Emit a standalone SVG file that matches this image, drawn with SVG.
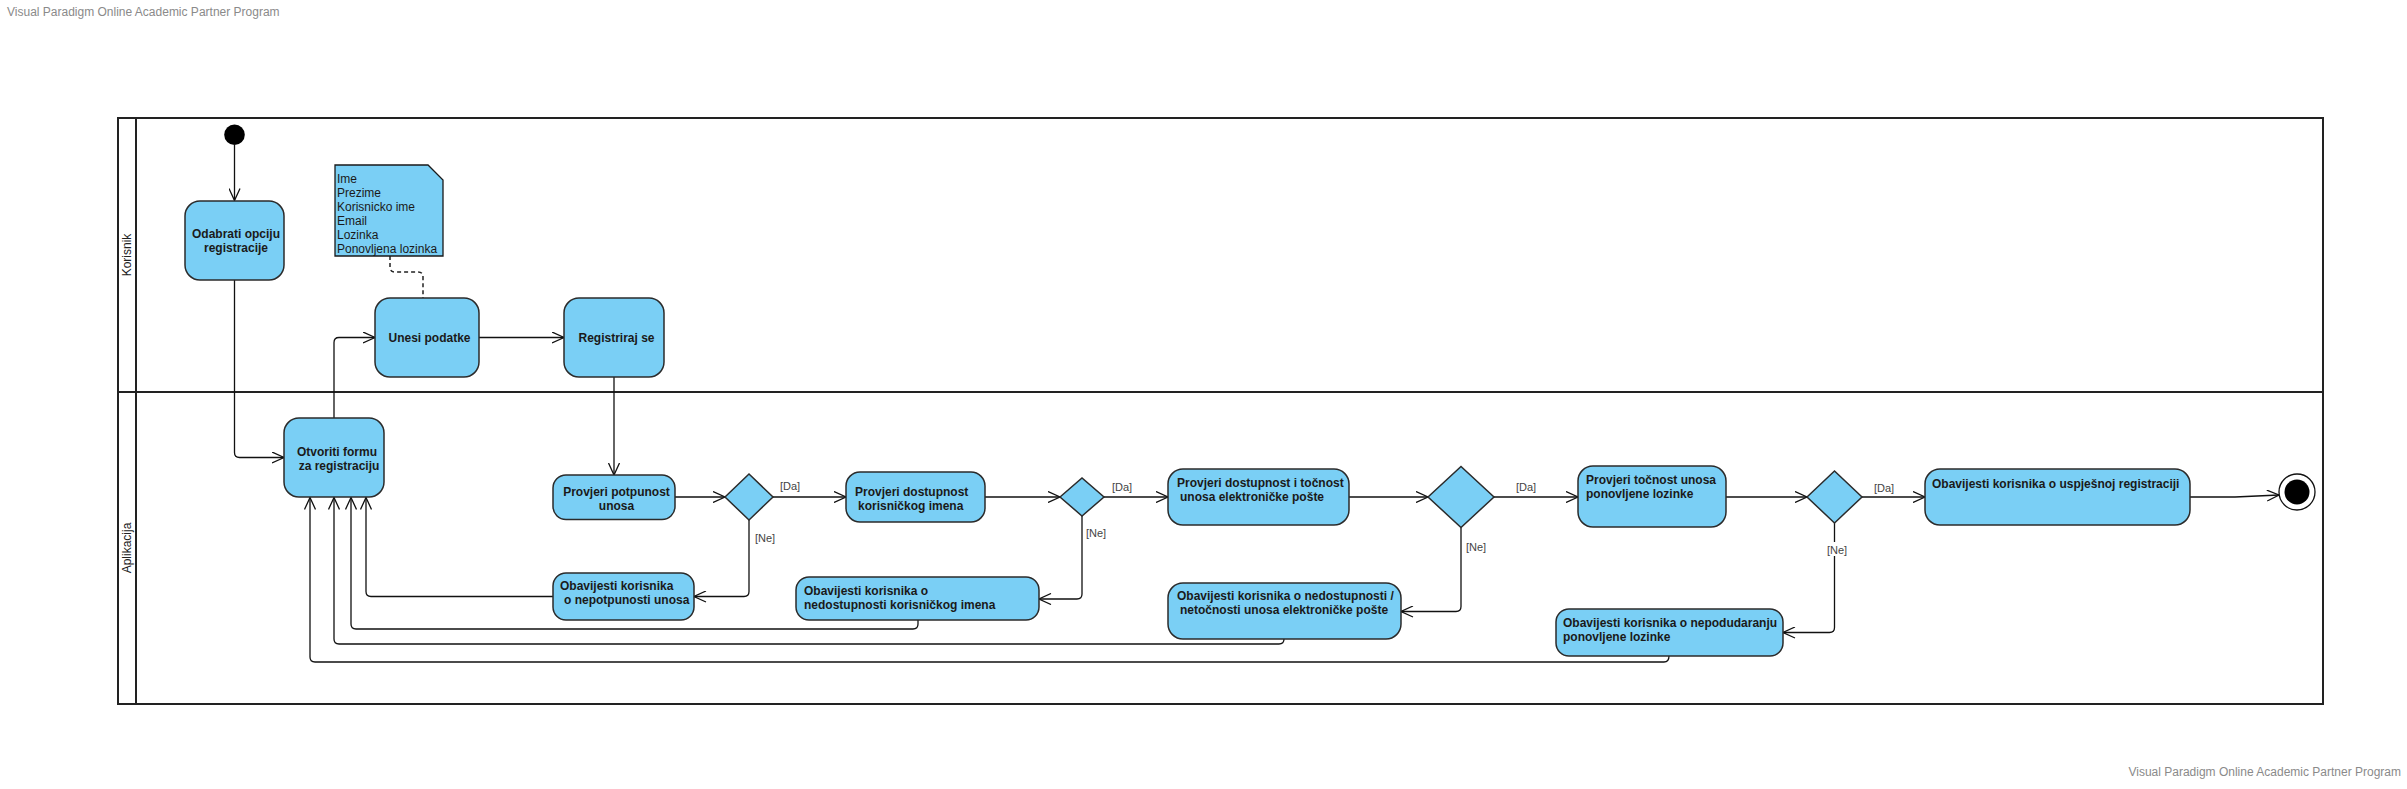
<svg xmlns="http://www.w3.org/2000/svg" width="2407" height="789" viewBox="0 0 2407 789">
<style>
.wm{font-family:"Liberation Sans",Arial,sans-serif;font-size:12px;fill:#8a8a8a}
.lane{fill:none;stroke:#222;stroke-width:2}
.lanelbl{font-family:"Liberation Sans",Arial,sans-serif;font-size:12px;fill:#222}
.act{fill:#7ACFF5;stroke:#2b2b2b;stroke-width:1.5}
.t{font-family:"Liberation Sans",Arial,sans-serif;font-size:12px;font-weight:bold;fill:#1a1a1a}
.tc{text-anchor:middle}
.note{fill:#7ACFF5;stroke:#1a1a1a;stroke-width:1.3}
.nt{font-family:"Liberation Sans",Arial,sans-serif;font-size:12px;fill:#1a1a1a}
.c{fill:none;stroke:#111;stroke-width:1.3;marker-end:url(#arr)}
.cn{fill:none;stroke:#111;stroke-width:1.3}
.dash{fill:none;stroke:#222;stroke-width:1.5;stroke-dasharray:4 3}
.g{font-family:"Liberation Sans",Arial,sans-serif;font-size:11px;fill:#444}
</style>
<defs>
<marker id="arr" viewBox="0 0 13 12" refX="12.5" refY="6" markerWidth="13" markerHeight="12" markerUnits="userSpaceOnUse" orient="auto">
<path d="M0.5,0.5 L12.5,6 L0.5,11.5" fill="none" stroke="#111" stroke-width="1.3"/>
</marker>
</defs>
<rect width="2407" height="789" fill="#fff"/>
<text class="wm" x="7" y="16">Visual Paradigm Online Academic Partner Program</text>
<text class="wm" x="2401" y="776" text-anchor="end">Visual Paradigm Online Academic Partner Program</text>

<g id="pool">
<rect class="lane" x="118" y="118" width="2205" height="586"/>
<line class="lane" x1="136" y1="118" x2="136" y2="704"/>
<line class="lane" x1="118" y1="392" x2="2323" y2="392"/>
<text class="lanelbl" transform="translate(131,255) rotate(-90)" text-anchor="middle">Korisnik</text>
<text class="lanelbl" transform="translate(131,548) rotate(-90)" text-anchor="middle">Aplikacija</text>
</g>

<g id="connectors">
<path class="c" d="M234.5,145 L234.5,200.5"/>
<path class="c" d="M234.5,280 L234.5,452.5 Q234.5,457.5 239.5,457.5 L284,457.5"/>
<path class="c" d="M334,418 L334,342.5 Q334,337.5 339,337.5 L375,337.5"/>
<path class="c" d="M479,337.5 L564,337.5"/>
<path class="c" d="M614,377 L614,475"/>
<path class="c" d="M675,497 L725,497"/>
<path class="c" d="M773,497 L846,497"/>
<path class="c" d="M749,520 L749,591.5 Q749,596.5 744,596.5 L694,596.5"/>
<path class="c" d="M553,596.5 L371,596.5 Q366,596.5 366,591.5 L366,497.5"/>
<path class="c" d="M985,497 L1060,497"/>
<path class="c" d="M1104,497 L1168,497"/>
<path class="c" d="M1082,516 L1082,594 Q1082,599 1077,599 L1039,599"/>
<path class="c" d="M918,620 L918,624 Q918,629 913,629 L356,629 Q351,629 351,624 L351,497.5"/>
<path class="c" d="M1349,497 L1428,497"/>
<path class="c" d="M1494,497 L1578,497"/>
<path class="c" d="M1461,527.5 L1461,606.5 Q1461,611.5 1456,611.5 L1401,611.5"/>
<path class="c" d="M1284,639 Q1284,644 1279,644 L339,644 Q334,644 334,639 L334,497.5"/>
<path class="c" d="M1726,497 L1807,497"/>
<path class="c" d="M1862,497 L1925,497"/>
<path class="c" d="M1834.5,523 L1834.5,627.5 Q1834.5,632.5 1829.5,632.5 L1783,632.5"/>
<path class="c" d="M1669,656 Q1669,662 1664,662 L315,662 Q310,662 310,657 L310,497.5"/>
<path class="c" d="M2190,497 L2235,497 L2279,495"/>
<path class="dash" d="M390,256 L390,267 Q390,272 395,272 L418,272 Q423,272 423,277 L423,298"/>
<text class="g" x="780" y="490">[Da]</text>
<text class="g" x="755" y="542">[Ne]</text>
<text class="g" x="1112" y="490.5">[Da]</text>
<text class="g" x="1086" y="537">[Ne]</text>
<text class="g" x="1516" y="491">[Da]</text>
<text class="g" x="1466" y="550.5">[Ne]</text>
<text class="g" x="1874" y="491.5">[Da]</text>
<rect x="1826" y="542" width="21" height="14" fill="#fff"/>
<text class="g" x="1837" y="553.5" text-anchor="middle">[Ne]</text>
</g>

<g id="start"><circle cx="234.5" cy="134.7" r="10.3" fill="#000"/></g>

<g id="odabrati">
<rect class="act" x="185" y="201" width="99" height="79" rx="15"/>
<text class="t tc" x="236" y="237.5">Odabrati opciju</text>
<text class="t tc" x="236" y="252">registracije</text>
</g>

<g id="note">
<path class="note" d="M335,165 L428,165 L443,180 L443,256 L335,256 Z"/>
<text class="nt" x="337" y="183.3">Ime</text>
<text class="nt" x="337" y="197.3">Prezime</text>
<text class="nt" x="337" y="211.3">Korisnicko ime</text>
<text class="nt" x="337" y="225.3">Email</text>
<text class="nt" x="337" y="239.3">Lozinka</text>
<text class="nt" x="337" y="253.3">Ponovljena lozinka</text>
</g>

<g id="unesi">
<rect class="act" x="375" y="298" width="104" height="79" rx="15"/>
<text class="t tc" x="429.5" y="342">Unesi podatke</text>
</g>

<g id="registriraj">
<rect class="act" x="564" y="298" width="100" height="79" rx="15"/>
<text class="t tc" x="616.5" y="342">Registriraj se</text>
</g>

<g id="otvoriti">
<rect class="act" x="284" y="418" width="100" height="79" rx="15"/>
<text class="t tc" x="337" y="455.5">Otvoriti formu</text>
<text class="t tc" x="339" y="469.5">za registraciju</text>
</g>

<g id="provjeri-potpunost">
<rect class="act" x="553" y="475" width="122" height="44.5" rx="13"/>
<text class="t tc" x="616.5" y="495.5">Provjeri potpunost</text>
<text class="t tc" x="616.5" y="509.5">unosa</text>
</g>

<g id="d1"><polygon class="act" points="725,497 749,474 773,497 749,520"/></g>

<g id="obavijesti-1">
<rect class="act" x="553" y="573" width="141" height="47" rx="13"/>
<text class="t" x="560" y="590">Obavijesti korisnika</text>
<text class="t" x="564" y="603.8">o nepotpunosti unosa</text>
</g>

<g id="provjeri-dostupnost">
<rect class="act" x="846" y="472" width="139" height="50" rx="14"/>
<text class="t" x="855" y="495.5">Provjeri dostupnost</text>
<text class="t" x="858" y="509.5">korisničkog imena</text>
</g>

<g id="d2"><polygon class="act" points="1060,497 1082,478 1104,497 1082,516"/></g>

<g id="obavijesti-2">
<rect class="act" x="796" y="577" width="243" height="43" rx="13"/>
<text class="t" x="804" y="595">Obavijesti korisnika o</text>
<text class="t" x="804" y="609.3">nedostupnosti korisničkog imena</text>
</g>

<g id="provjeri-email">
<rect class="act" x="1168" y="469" width="181" height="56" rx="15"/>
<text class="t" x="1177" y="487">Provjeri dostupnost i točnost</text>
<text class="t" x="1180" y="501">unosa elektroničke pošte</text>
</g>

<g id="d3"><polygon class="act" points="1428,497 1461,466.5 1494,497 1461,527.5"/></g>

<g id="obavijesti-3">
<rect class="act" x="1168" y="583" width="233" height="56" rx="15"/>
<text class="t" x="1177" y="600.3">Obavijesti korisnika o nedostupnosti /</text>
<text class="t" x="1180" y="614.3">netočnosti unosa elektroničke pošte</text>
</g>

<g id="provjeri-lozinke">
<rect class="act" x="1578" y="466" width="148" height="61" rx="15"/>
<text class="t" x="1586" y="483.6">Provjeri točnost unosa</text>
<text class="t" x="1586" y="497.6">ponovljene lozinke</text>
</g>

<g id="d4"><polygon class="act" points="1807,497 1834.5,471 1862,497 1834.5,523"/></g>

<g id="obavijesti-4">
<rect class="act" x="1556" y="609" width="227" height="47" rx="13"/>
<text class="t" x="1563" y="627">Obavijesti korisnika o nepodudaranju</text>
<text class="t" x="1563" y="641">ponovljene lozinke</text>
</g>

<g id="obavijesti-uspjeh">
<rect class="act" x="1925" y="469" width="265" height="56" rx="15"/>
<text class="t" x="1932" y="488">Obavijesti korisnika o uspješnoj registraciji</text>
</g>

<g id="end">
<circle cx="2297" cy="492" r="18" fill="#fff" stroke="#111" stroke-width="1.3"/>
<circle cx="2297" cy="492" r="12.5" fill="#000"/>
</g>
</svg>
